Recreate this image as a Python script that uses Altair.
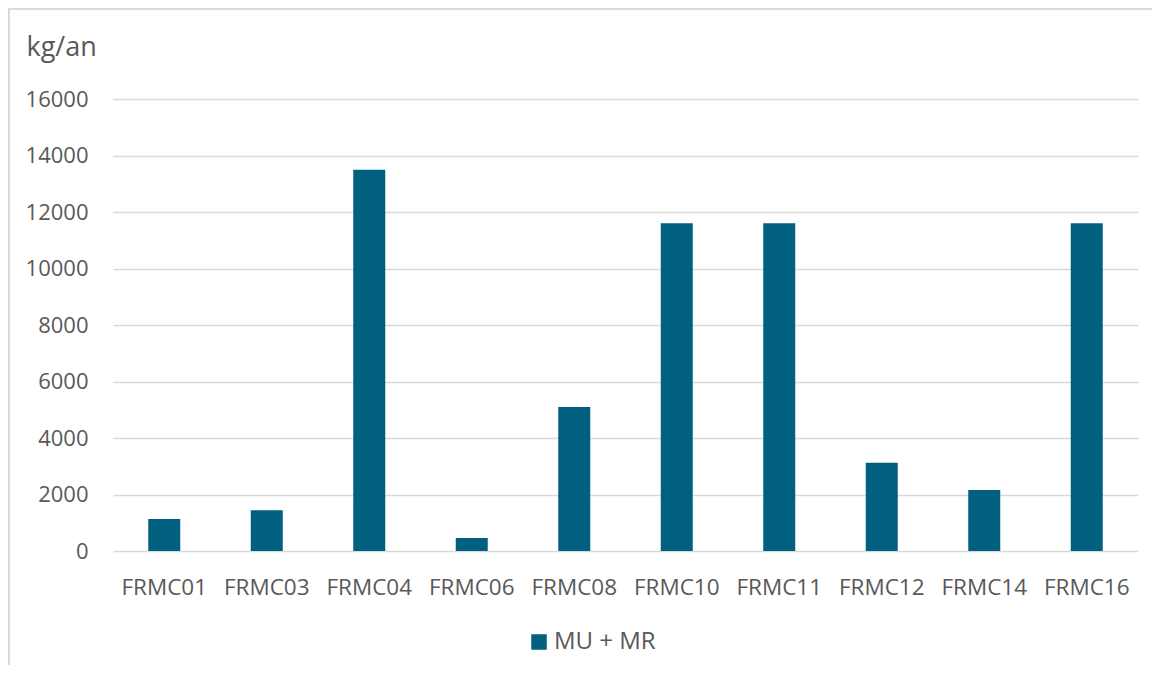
import altair as alt
import pandas as pd

categories = ["FRMC01", "FRMC03", "FRMC04", "FRMC06", "FRMC08",
              "FRMC10", "FRMC11", "FRMC12", "FRMC14", "FRMC16"]
values = [1130, 1440, 13500, 460, 5100, 11600, 11600, 3120, 2160, 11600]
series = ["MU + MR"] * len(categories)
y_ticks = [0, 2000, 4000, 6000, 8000, 10000, 12000, 14000, 16000]

df = pd.DataFrame({"site": categories, "value": values, "serie": series})

FONT = "Open Sans"
GREY = "#595959"
GRID = "#d9d9d9"

bars = alt.Chart(df).mark_bar(size=32, color="#01607f").encode(
    x=alt.X("site:N", sort=categories, title=None,
            axis=alt.Axis(labelAngle=0, labelFontSize=22.5, labelColor=GREY,
                          labelFont=FONT, labelPadding=25, ticks=False,
                          domain=False, grid=False)),
    y=alt.Y("value:Q", scale=alt.Scale(domain=[0, 16000]),
            axis=alt.Axis(values=y_ticks, format="d", title="kg/an",
                          titleAngle=0,
                          titleAlign="left", titleBaseline="alphabetic",
                          titleX=-87, titleY=-44, titleFontSize=27,
                          titleFontWeight="normal", titleColor=GREY,
                          titleFont=FONT,
                          labelFontSize=22, labelColor=GREY, labelFont=FONT,
                          labelPadding=25, ticks=False, domain=False,
                          grid=True, gridColor=GRID, gridWidth=1.5)),
    color=alt.Color("serie:N", scale=alt.Scale(range=["#01607f"]),
                    legend=alt.Legend(title=None, orient="none",
                                      legendX=414, legendY=531,
                                      symbolType="square", symbolSize=240,
                                      symbolStrokeWidth=0,
                                      labelFontSize=24, labelColor=GREY,
                                      labelFont=FONT, labelOffset=3)),
)

border_left = alt.Chart(df).mark_rule(color=GRID, strokeWidth=2.5).encode(
    x=alt.value(-105), y=alt.value(-91), y2=alt.value(600))
border_top = alt.Chart(df).mark_rule(color=GRID, strokeWidth=2.5).encode(
    x=alt.value(-105), x2=alt.value(1047), y=alt.value(-91))

chart = alt.layer(border_left, border_top, bars).properties(
    width=1025, height=452,
    autosize=alt.AutoSizeParams(type="none"),
    padding={"left": 105, "top": 91, "right": 14, "bottom": 114},
).configure(
    background="white",
    view=alt.ViewConfig(stroke="transparent"),
)

chart.save("out.html", embed_options={"renderer": "svg", "actions": False})
